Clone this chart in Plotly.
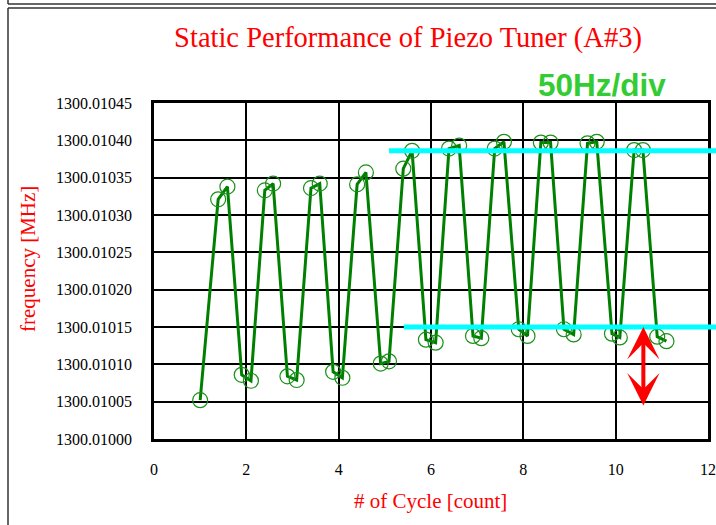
import plotly.graph_objects as go

# Piezo tuner static test: cavity frequency vs. actuation cycle
cycle = [1.00, 1.39, 1.59, 1.90, 2.10, 2.40, 2.58, 2.89, 3.09, 3.40, 3.59,
         3.88, 4.08, 4.40, 4.59, 4.91, 5.09, 5.40, 5.59, 5.89, 6.10, 6.39,
         6.61, 6.91, 7.09, 7.38, 7.58, 7.90, 8.09, 8.38, 8.59, 8.88, 9.09,
         9.39, 9.59, 9.92, 10.09, 10.40, 10.59, 10.90, 11.10]
freq_mhz = [1300.010052, 1300.010321, 1300.010338, 1300.010086, 1300.010078,
            1300.010333, 1300.010342, 1300.010084, 1300.010079, 1300.010336,
            1300.010342, 1300.010090, 1300.010082, 1300.010341, 1300.010357,
            1300.010101, 1300.010104, 1300.010362, 1300.010386, 1300.010133,
            1300.010129, 1300.010389, 1300.010393, 1300.010138, 1300.010135,
            1300.010389, 1300.010398, 1300.010147, 1300.010138, 1300.010397,
            1300.010397, 1300.010147, 1300.010140, 1300.010396, 1300.010398,
            1300.010141, 1300.010136, 1300.010387, 1300.010387, 1300.010137,
            1300.010131]

# Reference levels (upper / lower plateau) and the 50 Hz span marker
upper_level = 1300.010386
lower_level = 1300.010150
upper_start = 5.09
lower_start = 5.41
arrow_x = 10.6
arrow_top = 1300.010150
arrow_bottom = 1300.010043

x_range = [0, 12]
y_range = [1300.01000, 1300.01045]

SERIF = "Liberation Serif, Times New Roman, serif"
SANS = "Liberation Sans, Arial, sans-serif"

# page edges expressed in paper units (plot box spans 554 x 336 px)
LEFT_EDGE = (8 - 154) / 554
RIGHT_EDGE = (716 - 154) / 554

fig = go.Figure()
fig.add_trace(go.Scatter(
    x=cycle, y=freq_mhz, mode="lines+markers",
    line=dict(color="#008000", width=3),
    marker=dict(symbol="circle-open", size=15, color="#1a8f1a",
                line=dict(width=1.2, color="#1a8f1a")),
    showlegend=False,
))


def xpaper(v):
    return (v - x_range[0]) / (x_range[1] - x_range[0])


def ypaper(v):
    return (v - y_range[0]) / (y_range[1] - y_range[0])


shapes = [
    # cyan plateau markers, running off the right edge
    dict(type="line", xref="paper", yref="paper",
         x0=xpaper(upper_start), x1=RIGHT_EDGE,
         y0=ypaper(upper_level), y1=ypaper(upper_level),
         line=dict(color="#00ffff", width=5)),
    dict(type="line", xref="paper", yref="paper",
         x0=xpaper(lower_start), x1=RIGHT_EDGE,
         y0=ypaper(lower_level), y1=ypaper(lower_level),
         line=dict(color="#00ffff", width=5)),
    # outer frame lines
    dict(type="line", xref="paper", yref="paper", x0=LEFT_EDGE, x1=RIGHT_EDGE,
         y0=1.2827, y1=1.2827, line=dict(color="#333333", width=1.5)),
    dict(type="line", xref="paper", yref="paper", x0=LEFT_EDGE, x1=LEFT_EDGE,
         y0=1.2827, y1=-0.2560, line=dict(color="#333333", width=1.5)),
    dict(type="line", xref="paper", yref="paper", x0=LEFT_EDGE, x1=RIGHT_EDGE,
         y0=1.295, y1=1.295, line=dict(color="#333333", width=1.5)),
    dict(type="line", xref="paper", yref="paper", x0=LEFT_EDGE, x1=LEFT_EDGE,
         y0=1.295, y1=1.3065, line=dict(color="#333333", width=1.5)),
]

annotations = [
    dict(x=arrow_x, y=arrow_top, ax=arrow_x, ay=arrow_bottom,
         xref="x", yref="y", axref="x", ayref="y", text="",
         showarrow=True, arrowhead=3, startarrowhead=3,
         arrowside="end+start", arrowwidth=4, arrowsize=1.35,
         startarrowsize=1.35, arrowcolor="#ff0000", standoff=0,
         startstandoff=0),
    dict(text="50Hz/div", xref="paper", yref="paper",
         x=(602 - 154) / 554, y=(439 - 85) / 336,
         xanchor="center", yanchor="middle", showarrow=False,
         font=dict(family=SANS, size=31.5, color="#33cc33", weight="bold")),
    dict(text="frequency [MHz]", xref="paper", yref="paper",
         x=(28 - 154) / 554, y=(439 - 259) / 336, textangle=-90,
         xanchor="center", yanchor="middle", showarrow=False,
         font=dict(family=SERIF, size=21, color="#ff0000")),
    dict(text="# of Cycle [count]", xref="paper", yref="paper",
         x=(430 - 154) / 554, y=(439 - 501) / 336,
         xanchor="center", yanchor="middle", showarrow=False,
         font=dict(family=SERIF, size=21, color="#ff0000")),
]

fig.update_layout(
    width=716, height=525,
    margin=dict(l=154, r=8, t=103, b=86, autoexpand=False),
    paper_bgcolor="white", plot_bgcolor="white",
    title=dict(text="Static Performance of Piezo Tuner (A#3)",
               xref="container", yref="container",
               x=408 / 716, y=1 - 37 / 525,
               xanchor="center", yanchor="middle",
               font=dict(family=SERIF, size=28.5, color="#ff0000")),
    shapes=shapes, annotations=annotations,
)

fig.update_xaxes(
    range=x_range, dtick=2, tick0=0, automargin=False,
    showgrid=True, gridcolor="black", gridwidth=2,
    showline=True, linecolor="black", linewidth=2.5, mirror=True,
    zeroline=False, ticks="", ticklabelstandoff=14,
    tickfont=dict(family=SERIF, size=16, color="black"),
)
fig.update_yaxes(
    range=y_range, dtick=0.00005, tick0=1300.01, tickformat=".5f",
    automargin=False,
    showgrid=True, gridcolor="black", gridwidth=2,
    showline=True, linecolor="black", linewidth=2.5, mirror=True,
    zeroline=False, ticks="", ticklabelstandoff=16,
    tickfont=dict(family=SERIF, size=16, color="black"),
)

fig.write_html("out.html")
